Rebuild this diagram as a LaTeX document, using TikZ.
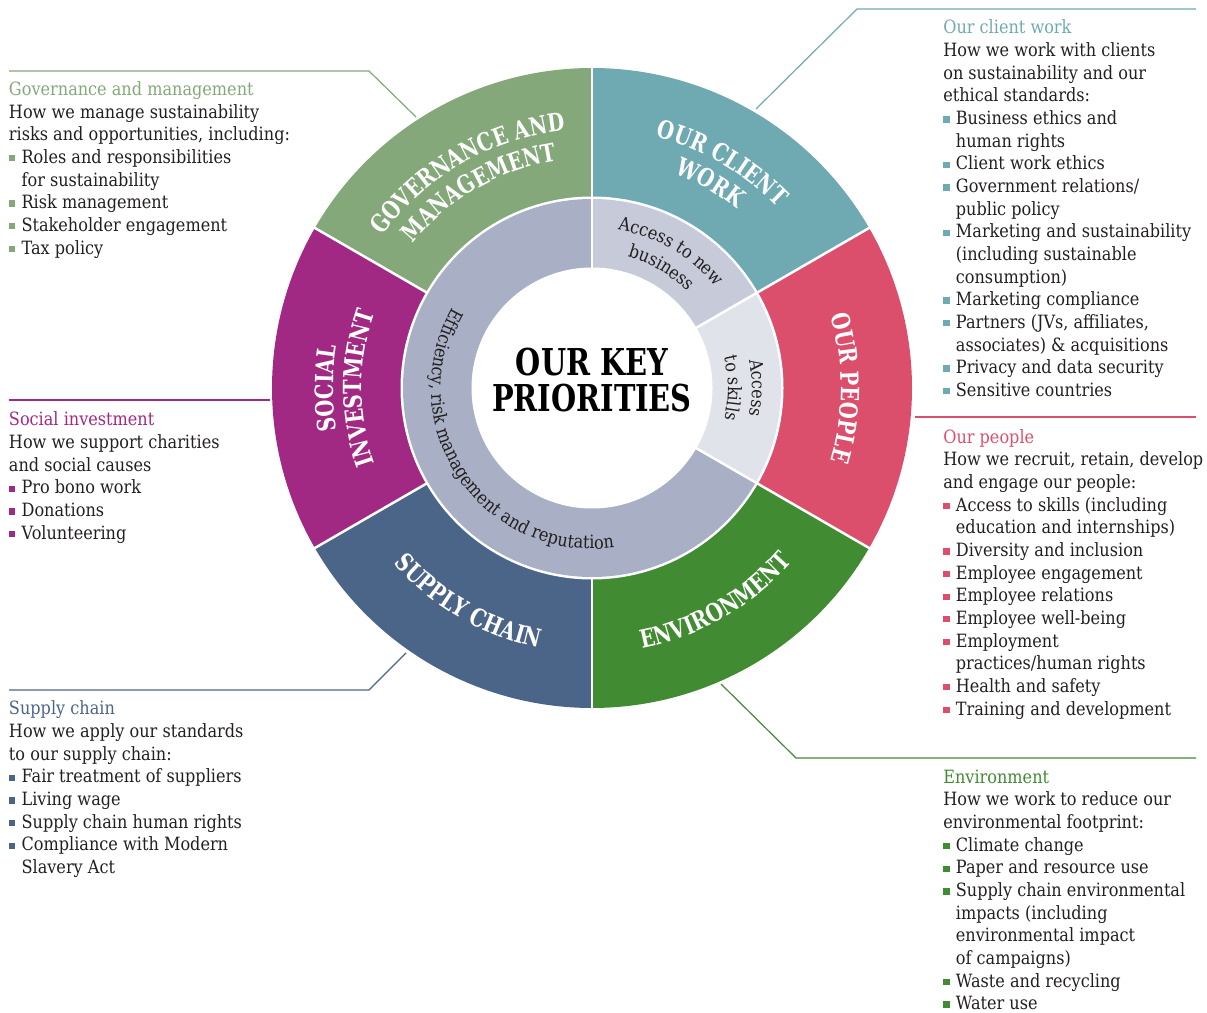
\documentclass[tikz,border=0pt]{standalone}
\usepackage{fontspec}
\setmainfont[FakeStretch=0.88]{DejaVu Serif}
\newfontfamily\ringfam[FakeStretch=0.78]{DejaVu Serif}
\newfontfamily\keyfam[FakeStretch=0.78]{DejaVu Serif}
\usetikzlibrary{decorations.text}

\definecolor{cgov}{HTML}{84A87A}
\definecolor{cclient}{HTML}{6FA9B1}
\definecolor{cpeople}{HTML}{DC4F6C}
\definecolor{cenv}{HTML}{418B32}
\definecolor{csupply}{HTML}{4B6589}
\definecolor{csocial}{HTML}{A12883}
\definecolor{ceff}{HTML}{A9B0C5}
\definecolor{cnew}{HTML}{C6CAD9}
\definecolor{cskill}{HTML}{E1E3EB}
\definecolor{ctext}{HTML}{231F20}

\newcommand\ringfnt{\ringfam\bfseries\fontsize{25}{28}\selectfont}
\newcommand\midfnt{\fontsize{18.3}{20}\selectfont}
\newcommand\bx[1]{\makebox[12.6pt][l]{\textcolor{#1}{\rule[2pt]{6.3pt}{6.3pt}}}}
\newcommand\ind{\hspace*{12.6pt}}
\newcommand\blocktext[1]{\begin{minipage}[t]{300pt}\fontsize{18.3}{22.65}\selectfont\raggedright #1\end{minipage}}

\tikzset{
  blk/.style={anchor=base west, inner sep=0pt, outer sep=0pt, text=ctext},
  lead/.style={draw=#1, line width=1.2pt},
  sep/.style={draw=white, line width=2.5pt},
  ringtxt/.style={decorate, decoration={text along path, text align=center, text color=white, text={|\ringfnt|#1}}},
  midtxt/.style={decorate, decoration={text along path, text align=center, text color=ctext, text={|\midfnt|#1}}}
}

\begin{document}
\begin{tikzpicture}[x=1pt,y=1pt]
\useasboundingbox (0,0) rectangle (1207,1012);
\coordinate (C) at (592,624);

% outer ring sectors
\fill[cclient] (C) -- ++(30:320) arc[start angle=30, end angle=90, radius=320] -- cycle;
\fill[cgov] (C) -- ++(90:320) arc[start angle=90, end angle=150, radius=320] -- cycle;
\fill[csocial] (C) -- ++(150:320) arc[start angle=150, end angle=210, radius=320] -- cycle;
\fill[csupply] (C) -- ++(210:320) arc[start angle=210, end angle=270, radius=320] -- cycle;
\fill[cenv] (C) -- ++(270:320) arc[start angle=270, end angle=330, radius=320] -- cycle;
\fill[cpeople] (C) -- ++(-30:320) arc[start angle=-30, end angle=30, radius=320] -- cycle;
\foreach \a in {90,30,-30,-90,-150,150}
  \draw[sep] ([shift={(\a:185)}]C) -- ([shift={(\a:322)}]C);

% middle ring
\fill[white] (C) circle[radius=191.5];
\fill[ceff] (C) -- ++(90:189) arc[start angle=90, end angle=330, radius=189] -- cycle;
\fill[cnew] (C) -- ++(30:189) arc[start angle=30, end angle=90, radius=189] -- cycle;
\fill[cskill] (C) -- ++(-30:189) arc[start angle=-30, end angle=30, radius=189] -- cycle;
\foreach \a in {90,30,-30}
  \draw[sep] (C) -- ([shift={(\a:190)}]C);
\fill[white] (C) circle[radius=120.5];

% ring labels
\path[ringtxt={OUR CLIENT}] ([shift={(105:259)}]C) arc[start angle=105, end angle=15, radius=259];
\path[ringtxt={WORK}] ([shift={(105:230)}]C) arc[start angle=105, end angle=15, radius=230];
\path[ringtxt={GOVERNANCE AND}] ([shift={(170:259)}]C) arc[start angle=170, end angle=70, radius=259];
\path[ringtxt={MANAGEMENT}] ([shift={(170:230)}]C) arc[start angle=170, end angle=70, radius=230];
\path[ringtxt={OUR PEOPLE}] ([shift={(45:249)}]C) arc[start angle=45, end angle=-45, radius=249];
\path[ringtxt={SOCIAL}] ([shift={(225:259)}]C) arc[start angle=225, end angle=135, radius=259];
\path[ringtxt={INVESTMENT}] ([shift={(225:230)}]C) arc[start angle=225, end angle=135, radius=230];
\path[ringtxt={SUPPLY CHAIN}] ([shift={(195:265)}]C) arc[start angle=195, end angle=285, radius=265];
\path[ringtxt={ENVIRONMENT}] ([shift={(255:265)}]C) arc[start angle=255, end angle=345, radius=265];

% middle labels
\path[midtxt={Access to new}] ([shift={(100:160)}]C) arc[start angle=100, end angle=20, radius=160];
\path[midtxt={business}] ([shift={(100:136)}]C) arc[start angle=100, end angle=20, radius=136];
\path[midtxt={Access}] ([shift={(40:160)}]C) arc[start angle=40, end angle=-40, radius=160];
\path[midtxt={to skills}] ([shift={(40:136)}]C) arc[start angle=40, end angle=-40, radius=136];
\path[midtxt={Efficiency, risk management and reputation}] ([shift={(118:161)}]C) arc[start angle=118, end angle=310, radius=161];

% centre
\node[anchor=base, inner sep=0pt] (key) at (592,636) {\begin{minipage}[t]{300pt}\centering\keyfam\bfseries\fontsize{37}{36}\selectfont OUR KEY\\PRIORITIES\end{minipage}};

% text blocks
\node[blk] (gov) at (9,916.5) {\blocktext{%
\textcolor{cgov}{Governance and management}\\
How we manage sustainability\\
risks and opportunities, including:\\
\bx{cgov}Roles and responsibilities\\
\ind for sustainability\\
\bx{cgov}Risk management\\
\bx{cgov}Stakeholder engagement\\
\bx{cgov}Tax policy}};

\node[blk] (client) at (943.3,978) {\blocktext{%
\textcolor{cclient}{Our client work}\\
How we work with clients\\
on sustainability and our\\
ethical standards:\\
\bx{cclient}Business ethics and\\
\ind human rights\\
\bx{cclient}Client work ethics\\
\bx{cclient}Government relations/\\
\ind public policy\\
\bx{cclient}Marketing and sustainability\\
\ind (including sustainable\\
\ind consumption)\\
\bx{cclient}Marketing compliance\\
\bx{cclient}Partners (JVs, affiliates,\\
\ind associates) \& acquisitions\\
\bx{cclient}Privacy and data security\\
\bx{cclient}Sensitive countries}};

\node[blk] (people) at (943.3,568.7) {\blocktext{%
\textcolor{cpeople}{Our people}\\
How we recruit, retain, develop\\
and engage our people:\\
\bx{cpeople}Access to skills (including\\
\ind education and internships)\\
\bx{cpeople}Diversity and inclusion\\
\bx{cpeople}Employee engagement\\
\bx{cpeople}Employee relations\\
\bx{cpeople}Employee well-being\\
\bx{cpeople}Employment\\
\ind practices/human rights\\
\bx{cpeople}Health and safety\\
\bx{cpeople}Training and development}};

\node[blk] (env) at (943.3,228.7) {\blocktext{%
\textcolor{cenv}{Environment}\\
How we work to reduce our\\
environmental footprint:\\
\bx{cenv}Climate change\\
\bx{cenv}Paper and resource use\\
\bx{cenv}Supply chain environmental\\
\ind impacts (including\\
\ind environmental impact\\
\ind of campaigns)\\
\bx{cenv}Waste and recycling\\
\bx{cenv}Water use}};

\node[blk] (social) at (9,586) {\blocktext{%
\textcolor{csocial}{Social investment}\\
How we support charities\\
and social causes\\
\bx{csocial}Pro bono work\\
\bx{csocial}Donations\\
\bx{csocial}Volunteering}};

\node[blk] (supply) at (9,297) {\blocktext{%
\textcolor{csupply}{Supply chain}\\
How we apply our standards\\
to our supply chain:\\
\bx{csupply}Fair treatment of suppliers\\
\bx{csupply}Living wage\\
\bx{csupply}Supply chain human rights\\
\bx{csupply}Compliance with Modern\\
\ind Slavery Act}};

% leader lines
\coordinate (govA) at (416,895); \coordinate (govB) at (369,941); \coordinate (govC) at (9,941);
\draw[lead=cgov] (govA) -- (govB) -- (govC);
\coordinate (cliA) at (756,903); \coordinate (cliB) at (857,1003); \coordinate (cliC) at (1196,1003);
\draw[lead=cclient] (cliA) -- (cliB) -- (cliC);
\coordinate (peoA) at (915,595); \coordinate (peoB) at (1196,595);
\draw[lead=cpeople] (peoA) -- (peoB);
\coordinate (socA) at (270,612); \coordinate (socB) at (9,612);
\draw[lead=csocial] (socA) -- (socB);
\coordinate (supA) at (406,359); \coordinate (supB) at (369,322); \coordinate (supC) at (9,322);
\draw[lead=csupply] (supA) -- (supB) -- (supC);
\coordinate (envA) at (721,328); \coordinate (envB) at (796,254); \coordinate (envC) at (1196,254);
\draw[lead=cenv] (envA) -- (envB) -- (envC);
\end{tikzpicture}
\end{document}
